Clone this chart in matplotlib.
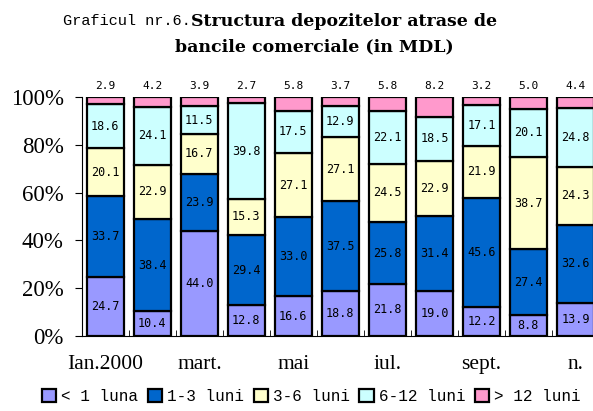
import numpy as np
import matplotlib.pyplot as plt
from matplotlib.ticker import PercentFormatter

# Structura depozitelor atrase (procente)
luni = ["Ian.2000", "feb.", "mart.", "apr.", "mai", "iun.",
        "iul.", "aug.", "sept.", "oct.", "n."]
sub1 = [24.7, 10.4, 44.0, 12.8, 16.6, 18.8, 21.8, 19.0, 12.2, 8.8, 13.9]
l1_3 = [33.7, 38.4, 23.9, 29.4, 33.0, 37.5, 25.8, 31.4, 45.6, 27.4, 32.6]
l3_6 = [20.1, 22.9, 16.7, 15.3, 27.1, 27.1, 24.5, 22.9, 21.9, 38.7, 24.3]
l6_12 = [18.6, 24.1, 11.5, 39.8, 17.5, 12.9, 22.1, 18.5, 17.1, 20.1, 24.8]
peste12 = [2.9, 4.2, 3.9, 2.7, 5.8, 3.7, 5.8, 8.2, 3.2, 5.0, 4.4]

serii = [sub1, l1_3, l3_6, l6_12, peste12]
nume = ["< 1 luna", "1-3 luni", "3-6 luni", "6-12 luni", "> 12 luni"]
culori = ["#9999FF", "#0066CC", "#FFFFCC", "#CCFFFF", "#FF99CC"]

fig = plt.figure(figsize=(5.93, 4.11), dpi=100)
ax = fig.add_axes([0.138, 0.1825, 0.872, 0.5815])

x = np.arange(len(luni))
jos = np.zeros(len(luni))
for serie, n, c in zip(serii, nume, culori):
    v = np.array(serie)
    ax.bar(x, v, 0.78, bottom=jos, color=c, edgecolor="black",
           linewidth=1.6, label=n)
    jos += v

# etichete in interiorul barelor (primele patru serii)
jos = np.zeros(len(luni))
for serie in serii[:4]:
    v = np.array(serie)
    for i in range(len(luni)):
        ax.text(x[i], jos[i] + v[i] / 2, "%.1f" % v[i], ha="center",
                va="center", fontsize=8.5, family="DejaVu Sans Mono")
    jos += v

# etichete deasupra (> 12 luni)
for i in range(len(luni)):
    ax.text(x[i], 102.5, "%.1f" % peste12[i], ha="center", va="bottom",
            fontsize=8, family="DejaVu Sans Mono")

ax.set_xlim(-0.5, 10.5)
ax.set_ylim(0, 100)
ax.set_yticks(np.arange(0, 101, 20))
ax.yaxis.set_major_formatter(PercentFormatter(decimals=0))
ax.set_xticks(x[::2])
ax.set_xticklabels(luni[::2])
ax.set_xticks(x[:-1] + 0.5, minor=True)
ax.tick_params(axis="x", which="major", length=0, pad=14)
ax.tick_params(axis="x", which="minor", length=4, direction="in")
ax.tick_params(axis="y", length=5, direction="out", pad=8)
for lab in ax.get_xticklabels():
    lab.set_family("Liberation Serif")
    lab.set_fontsize(15.5)
for lab in ax.get_yticklabels():
    lab.set_family("Liberation Serif")
    lab.set_fontsize(16.5)
for s in ["top", "right"]:
    ax.spines[s].set_visible(False)

fig.text(0.322, 0.948, "Graficul nr.6.", ha="right", va="center",
         family="Liberation Mono", fontsize=11)
fig.text(0.322, 0.948, "Structura depozitelor atrase de", ha="left",
         va="center", family="DejaVu Serif", fontweight="bold",
         fontsize=12.5)
fig.text(0.53, 0.885, "bancile comerciale (in MDL)", ha="center",
         va="center", family="DejaVu Serif", fontweight="bold",
         fontsize=12.5)

fig.legend(loc="center", bbox_to_anchor=(0.525, 0.035), ncol=5,
           frameon=False, prop={"family": "Liberation Mono", "size": 11.5},
           handlelength=0.9, handleheight=0.9, handletextpad=0.3,
           columnspacing=0.6)

fig.savefig("out.png", dpi=100)
